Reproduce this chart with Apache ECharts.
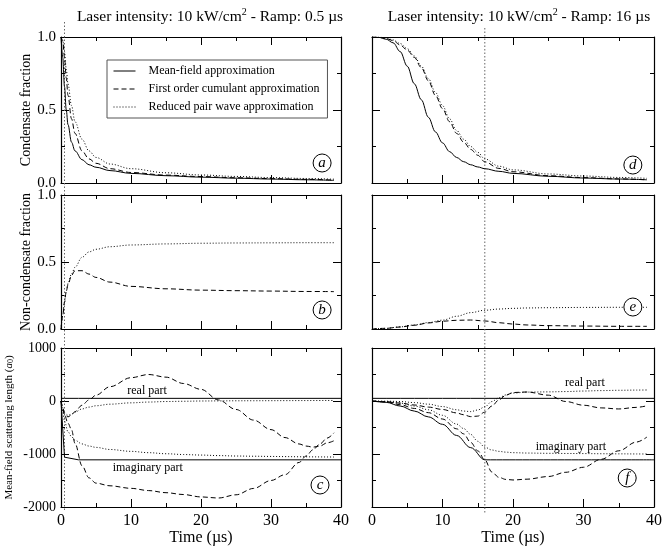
<!DOCTYPE html>
<html>
<head>
<meta charset="utf-8">
<script src="https://cdn.jsdelivr.net/npm/echarts@6/dist/echarts.min.js"></script>
<style>html,body{margin:0;padding:0;background:#fff}#chart{width:664px;height:548px}</style>
</head>
<body>
<div id="chart"></div>
<script>
// legend names, one per approximation
var names = ['Mean-field approximation', 'First order cumulant approximation', 'Reduced pair wave approximation'];

// panel a : condensate fraction, ramp 0.5 us
var tA = [0, 0.25, 0.5, 0.75, 1, 1.5, 2, 3, 4, 5, 7, 10, 15, 20, 25, 30, 35, 39];
var aMF = [1.0, 0.86, 0.66, 0.5, 0.4, 0.28, 0.22, 0.16, 0.125, 0.108, 0.085, 0.066, 0.05, 0.04, 0.033, 0.027, 0.022, 0.018];
var aFO = [1.0, 0.97, 0.86, 0.72, 0.6, 0.44, 0.34, 0.22, 0.165, 0.135, 0.098, 0.072, 0.054, 0.044, 0.036, 0.03, 0.025, 0.02];
var aRP = [1.0, 0.98, 0.9, 0.78, 0.68, 0.53, 0.42, 0.3, 0.22, 0.175, 0.13, 0.098, 0.07, 0.055, 0.045, 0.037, 0.031, 0.026];

// panel b : non-condensate fraction, ramp 0.5 us
var tB = [0, 0.25, 0.5, 0.75, 1, 1.5, 2, 3, 4, 5, 7, 10, 15, 20, 25, 30, 35, 39];
var bFO = [0, 0.1, 0.2, 0.28, 0.33, 0.4, 0.435, 0.435, 0.41, 0.385, 0.35, 0.318, 0.3, 0.29, 0.286, 0.283, 0.28, 0.279];
var bRP = [0, 0.1, 0.2, 0.28, 0.34, 0.41, 0.46, 0.535, 0.575, 0.595, 0.614, 0.627, 0.635, 0.64, 0.642, 0.643, 0.644, 0.644];

// panel c : scattering length, ramp 0.5 us
var tCmf = [0, 0.5, 2.5, 40];
var cMFre = [50, 50, 50, 50];
var cMFim = [0, -1060, -1110, -1110];
var tC = [0, 0.25, 0.5, 1, 1.5, 2, 3, 4, 5, 7, 10, 12.5, 15, 17.5, 20, 22.5, 25, 27.5, 30, 32, 34, 35, 36, 37, 38, 39];
var cFOre = [0, -150, -250, -300, -265, -200, -80, 20, 110, 270, 440, 500, 450, 330, 220, 20, -160, -360, -540, -690, -810, -850, -870, -850, -790, -750];
var cFOim = [0, -120, -260, -420, -540, -800, -1220, -1450, -1550, -1600, -1648, -1690, -1730, -1765, -1810, -1830, -1770, -1650, -1500, -1390, -1160, -1040, -920, -810, -700, -600];
var cRPre = [0, -120, -220, -270, -250, -210, -150, -115, -90, -60, -35, -20, -10, -5, 0, 2, 4, 5, 6, 7, 8, 8, 9, 9, 10, 10];
var cRPim = [0, -200, -380, -580, -673, -740, -810, -850, -875, -915, -950, -975, -995, -1010, -1020, -1030, -1038, -1042, -1046, -1049, -1052, -1053, -1054, -1055, -1056, -1057];

// panel d : condensate fraction, ramp 16 us
var tD = [0, 1, 2, 3, 4, 5, 6, 7, 8, 9, 10, 11, 12, 13, 14, 15, 16, 18, 20, 25, 30, 35, 39];
var dMF = [1.0, 0.997, 0.985, 0.96, 0.9, 0.8, 0.68, 0.57, 0.45, 0.35, 0.275, 0.215, 0.175, 0.146, 0.125, 0.11, 0.098, 0.08, 0.066, 0.046, 0.034, 0.027, 0.022];
var dFO = [1.0, 0.998, 0.99, 0.975, 0.945, 0.91, 0.86, 0.79, 0.7, 0.6, 0.51, 0.42, 0.34, 0.28, 0.23, 0.19, 0.145, 0.1, 0.077, 0.05, 0.037, 0.028, 0.022];
var dRP = [1.0, 0.999, 0.993, 0.98, 0.955, 0.92, 0.87, 0.8, 0.715, 0.62, 0.53, 0.44, 0.36, 0.3, 0.25, 0.21, 0.165, 0.115, 0.09, 0.062, 0.048, 0.038, 0.032];

// panel e : non-condensate fraction, ramp 16 us
var tE = [0, 2, 4, 6, 8, 10, 12, 14, 16, 18, 20, 22, 25, 30, 35, 39];
var eFO = [0, 0.005, 0.015, 0.028, 0.045, 0.058, 0.065, 0.067, 0.06, 0.047, 0.037, 0.03, 0.025, 0.022, 0.02, 0.02];
var eRP = [0, 0.005, 0.016, 0.03, 0.048, 0.066, 0.095, 0.122, 0.14, 0.149, 0.154, 0.157, 0.159, 0.161, 0.162, 0.162];

// panel f : scattering length, ramp 16 us
var tFmf = [0, 2, 4, 6, 8, 10, 12, 14, 16, 40];
var fMFre = [50, 50, 50, 50, 50, 50, 50, 50, 50, 50];
var fMFim = [0, -25, -95, -190, -300, -440, -650, -880, -1110, -1110];
var tF = [0, 2, 4, 6, 8, 10, 12, 13, 14, 15, 16, 17, 18, 19, 20, 22, 25, 27.5, 30, 32.5, 35, 37.5, 39];
var fFOre = [0, -15, -40, -75, -115, -160, -225, -260, -295, -285, -210, -95, 20, 110, 160, 170, 110, -10, -80, -130, -150, -120, -90];
var fFOim = [0, -15, -70, -140, -220, -340, -525, -620, -780, -940, -1110, -1340, -1440, -1480, -1490, -1475, -1425, -1345, -1250, -1100, -940, -775, -680];
var fRPre = [0, -3, -10, -30, -60, -105, -165, -190, -200, -170, -110, -10, 60, 115, 150, 168, 172, 178, 188, 196, 202, 206, 208];
var fRPim = [0, -10, -40, -95, -165, -270, -435, -520, -630, -760, -870, -925, -950, -965, -975, -982, -987, -990, -992, -995, -997, -999, -1000];

var SERIF = 'Liberation Serif';
var lineTypes = ['solid', [5, 3], [1, 2]];
var cols = [{left: 61, width: 280}, {left: 372, width: 282}];
var rows = [{top: 37, height: 146}, {top: 195, height: 134}, {top: 348, height: 159}];

function pairs(ts, vs) {
    return ts.map(function (t, i) { return [t, vs[i]]; });
}

function line(g, kind, ts, vs, smooth) {
    return {
        type: 'line', name: names[kind], xAxisIndex: 2 * g, yAxisIndex: 2 * g,
        data: pairs(ts, vs), symbol: 'none', smooth: smooth ? 0.35 : false, smoothMonotone: 'x',
        lineStyle: {color: '#000', width: 1, type: lineTypes[kind]},
        itemStyle: {color: '#000'}, silent: true, z: 3
    };
}

var grids = [], xAxes = [], yAxes = [];
for (var g = 0; g < 6; g++) {
    var col = g % 2, row = Math.floor(g / 2);
    grids.push({left: cols[col].left, width: cols[col].width, top: rows[row].top, height: rows[row].height,
        containLabel: false, outerBoundsMode: 'none'});
    ['bottom', 'top'].forEach(function (pos) {
        var withLabel = pos === 'bottom' && row === 2;
        xAxes.push({
            type: 'value', gridIndex: g, position: pos, min: 0, max: 40, interval: 10,
            name: withLabel ? 'Time (\u00b5s)' : '', nameLocation: 'middle', nameGap: 22,
            nameTextStyle: {fontFamily: SERIF, fontSize: 16, color: '#000'},
            axisLine: {show: true, onZero: false, lineStyle: {color: '#000', width: 1.2}},
            axisTick: {show: true, inside: true, length: 8, lineStyle: {color: '#000', width: 1}},
            minorTick: {show: true, splitNumber: 2, length: 4, lineStyle: {color: '#000', width: 1}},
            axisLabel: {show: withLabel, fontFamily: SERIF, fontSize: 16, color: '#000', margin: 6},
            splitLine: {show: false}, minorSplitLine: {show: false}
        });
    });
    ['left', 'right'].forEach(function (pos) {
        var withLabel = pos === 'left' && col === 0;
        var big = row === 2;
        var yname = '';
        if (withLabel) {
            yname = row === 0 ? 'Condensate fraction' : row === 1 ? 'Non-condensate fraction'
                : '{n|Mean-field scattering length (}{i|a}{s|0}{n|)}';
        }
        yAxes.push({
            type: 'value', gridIndex: g, position: pos,
            min: big ? -2000 : 0, max: big ? 1000 : 1, interval: big ? 1000 : 0.5,
            name: yname, nameLocation: 'middle', nameGap: big ? 46 : 28,
            nameTextStyle: {fontFamily: SERIF, fontSize: big ? 11 : 14, color: '#000',
                rich: {
                    n: {fontFamily: SERIF, fontSize: 11, color: '#000'},
                    i: {fontFamily: SERIF, fontSize: 11, fontStyle: 'italic', color: '#000'},
                    s: {fontFamily: SERIF, fontSize: 8, color: '#000', verticalAlign: 'bottom'}
                }},
            axisLine: {show: true, onZero: false, lineStyle: {color: '#000', width: 1.2}},
            axisTick: {show: true, inside: true, length: 8, lineStyle: {color: '#000', width: 1}},
            minorTick: {show: true, splitNumber: 2, length: 4, lineStyle: {color: '#000', width: 1}},
            axisLabel: {show: withLabel, fontFamily: SERIF, fontSize: big ? 14 : 15, color: '#000', margin: 5,
                formatter: big ? function (v) { return String(v); } : function (v) { return v.toFixed(1); }},
            splitLine: {show: false}, minorSplitLine: {show: false}
        });
    });
}

var series = [
    line(0, 0, tA, aMF, true), line(0, 1, tA, aFO, true), line(0, 2, tA, aRP, true),
    line(1, 0, tD, dMF, true), line(1, 1, tD, dFO, true), line(1, 2, tD, dRP, true),
    line(2, 1, tB, bFO, true), line(2, 2, tB, bRP, true),
    line(3, 1, tE, eFO, true), line(3, 2, tE, eRP, true),
    line(4, 0, tCmf, cMFre, false), line(4, 0, tCmf, cMFim, false),
    line(4, 1, tC, cFOre, true), line(4, 1, tC, cFOim, true),
    line(4, 2, tC, cRPre, true), line(4, 2, tC, cRPim, true),
    line(5, 0, tFmf, fMFre, false), line(5, 0, tFmf, fMFim, true),
    line(5, 1, tF, fFOre, true), line(5, 1, tF, fFOim, true),
    line(5, 2, tF, fRPre, true), line(5, 2, tF, fRPim, true)
];

var titleRich = {
    n: {fontFamily: SERIF, fontSize: 15.5, fontWeight: 'normal', color: '#000', lineHeight: 20},
    s: {fontFamily: SERIF, fontSize: 10, fontWeight: 'normal', color: '#000', lineHeight: 12, verticalAlign: 'top'}
};

var chart = echarts.init(document.getElementById('chart'), null, {renderer: 'canvas'});
chart.setOption({
    animation: false,
    backgroundColor: '#fff',
    color: ['#000'],
    title: [
        {text: '{n|Laser intensity: 10 kW/cm}{s|2}{n| - Ramp: 0.5 \u00b5s}', left: 205, top: 2, textAlign: 'center',
            textStyle: {fontWeight: 'normal', rich: titleRich}},
        {text: '{n|Laser intensity: 10 kW/cm}{s|2}{n| - Ramp: 16 \u00b5s}', left: 514, top: 2, textAlign: 'center',
            textStyle: {fontWeight: 'normal', rich: titleRich}}
    ],
    legend: {
        data: names, orient: 'vertical', left: 107, top: 60, selectedMode: false,
        itemWidth: 22, itemHeight: 10, itemGap: 6, padding: [5, 8, 5, 6],
        borderColor: '#555', borderWidth: 1, backgroundColor: '#fff',
        itemStyle: {opacity: 0},
        lineStyle: {width: 1},
        textStyle: {fontFamily: SERIF, fontSize: 12, color: '#000', padding: [0, 0, 0, 8]}
    },
    grid: grids,
    xAxis: xAxes,
    yAxis: yAxes,
    series: series
});

// annotations placed in data coordinates of each panel
var letters = [
    {g: 0, t: 37.3, v: 0.137, s: 'a'}, {g: 2, t: 37.3, v: 0.142, s: 'b'}, {g: 4, t: 37, v: -1585, s: 'c'},
    {g: 1, t: 37, v: 0.123, s: 'd'}, {g: 3, t: 37, v: 0.164, s: 'e'}, {g: 5, t: 36.2, v: -1453, s: 'f'}
];
var notes = [
    {g: 4, t: 12.3, v: 189, s: 'real part'}, {g: 4, t: 12.4, v: -1264, s: 'imaginary part'},
    {g: 5, t: 30.2, v: 340, s: 'real part'}, {g: 5, t: 28.2, v: -868, s: 'imaginary part'}
];
var ramps = [{g: 0, t: 0.5, y1: 22, y2: 510}, {g: 1, t: 16, y1: 28, y2: 513}];

function toPx(g, t, v) {
    return chart.convertToPixel({xAxisIndex: 2 * g, yAxisIndex: 2 * g}, [t, v]);
}

var graphic = [];
ramps.forEach(function (r) {
    var x = chart.convertToPixel({xAxisIndex: 2 * r.g}, r.t);
    graphic.push({type: 'line', silent: true, z: 1,
        shape: {x1: x, y1: r.y1, x2: x, y2: r.y2},
        style: {stroke: '#666', lineWidth: 1, lineDash: [1.5, 2]}});
});
letters.forEach(function (l) {
    var p = toPx(l.g, l.t, l.v);
    graphic.push({type: 'circle', silent: true, z: 10, shape: {cx: p[0], cy: p[1], r: 9},
        style: {fill: '#fff', stroke: '#000', lineWidth: 1}});
    graphic.push({type: 'text', silent: true, z: 11, x: p[0], y: p[1],
        style: {text: l.s, font: 'italic 15px "Liberation Serif"', fill: '#000', align: 'center', verticalAlign: 'middle'}});
});
notes.forEach(function (n) {
    var p = toPx(n.g, n.t, n.v);
    graphic.push({type: 'text', silent: true, z: 11, x: p[0], y: p[1],
        style: {text: n.s, font: '12px "Liberation Serif"', fill: '#000', align: 'center', verticalAlign: 'middle'}});
});
chart.setOption({graphic: graphic});
</script>
</body>
</html>
